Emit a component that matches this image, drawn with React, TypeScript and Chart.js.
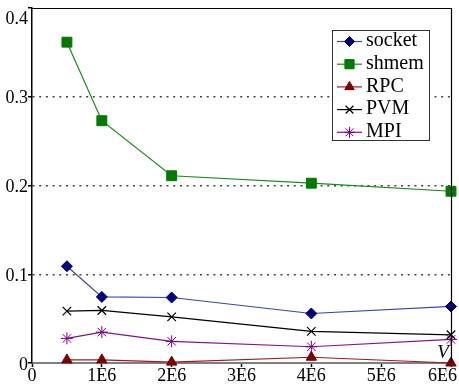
import React, { useEffect, useRef, useState } from "react";
import { Chart, registerables } from "chart.js";
import { drawPoint } from "chart.js/helpers";

Chart.register(...registerables);

const xValues = [0.5e6, 1e6, 2e6, 4e6, 6e6];
const socketValues = [0.109, 0.0745, 0.0738, 0.0558, 0.0637];
const shmemValues = [0.3615, 0.273, 0.211, 0.2026, 0.1935];
const rpcValues = [0.0035, 0.0035, 0.001, 0.0065, 0.0];
const pvmValues = [0.0584, 0.0592, 0.052, 0.0356, 0.0318];
const mpiValues = [0.0277, 0.0348, 0.0244, 0.0183, 0.0266];
const seriesNames = ["socket", "shmem", "RPC", "PVM", "MPI"];
const xTickValues = [0, 1e6, 2e6, 3e6, 4e6, 5e6, 6e6];
const xTickLabels = ["0", "1E6", "2E6", "3E6", "4E6", "5E6", "6E6"];
const yTickValues = [0, 0.1, 0.2, 0.3, 0.4];
const yTickLabels = ["0", "0.1", "0.2", "0.3", "0.4"];
const axisLabelV = "V";

const SERIF = '"Liberation Serif", "Times New Roman", serif';

const styles = [
  { line: "#3a46a8", fill: "#00007a", point: "rectRot", radius: 5.5, bw: 1 },
  { line: "#1a8a1a", fill: "#007a00", point: "rect", radius: 7, bw: 1 },
  { line: "#9a1c1c", fill: "#7a0000", point: "triangle", radius: 6, bw: 1 },
  { line: "#000000", fill: "#000000", point: "crossRot", radius: 6, bw: 1.2 },
  { line: "#8a108a", fill: "#800080", point: "star", radius: 6, bw: 1 },
];

const allSeries = [socketValues, shmemValues, rpcValues, pvmValues, mpiValues];

const LEG = { x: 332, y: 30, w: 97, h: 110, row0: 11.5, rowH: 22.7 };

const decorPlugin = {
  id: "decor",
  afterDraw(chart: any) {
    const { ctx, chartArea } = chart;
    ctx.save();
    ctx.strokeStyle = "#000";
    ctx.lineWidth = 1.2;
    ctx.beginPath();
    ctx.moveTo(chartArea.left, chartArea.top + 0.5);
    ctx.lineTo(chartArea.right + 0.5, chartArea.top + 0.5);
    ctx.lineTo(chartArea.right + 0.5, chartArea.bottom);
    ctx.stroke();

    ctx.fillStyle = "#fff";
    ctx.fillRect(LEG.x, LEG.y, LEG.w, LEG.h);
    ctx.strokeStyle = "#333";
    ctx.lineWidth = 1;
    ctx.strokeRect(LEG.x + 0.5, LEG.y + 0.5, LEG.w, LEG.h);
    seriesNames.forEach((_name, i) => {
      const s = styles[i];
      const y = LEG.y + LEG.row0 + i * LEG.rowH;
      ctx.strokeStyle = s.line;
      ctx.lineWidth = 1.2;
      ctx.beginPath();
      ctx.moveTo(LEG.x + 5, y);
      ctx.lineTo(LEG.x + 30, y);
      ctx.stroke();
      ctx.fillStyle = s.fill;
      ctx.strokeStyle = s.fill;
      ctx.lineWidth = s.bw;
      drawPoint(ctx, { pointStyle: s.point, radius: s.radius - 0.5, rotation: 0, borderWidth: s.bw }, LEG.x + 17.5, y);
    });
    ctx.restore();
  },
};

type Lbl = { text: string; left: number; top: number; width: number; align: "left" | "right" | "center"; size: number; italic?: boolean };

export default function App() {
  const ref = useRef<HTMLCanvasElement>(null);
  const [labels, setLabels] = useState<Lbl[]>([]);
  useEffect(() => {
    if (!ref.current) return;
    const datasets = allSeries.map((vals, i) => {
      const s = styles[i];
      return {
        label: seriesNames[i],
        data: vals.map((v, j) => ({ x: xValues[j], y: v })),
        borderColor: s.line,
        borderWidth: 1.2,
        backgroundColor: s.fill,
        pointStyle: s.point,
        pointRadius: s.radius,
        pointBackgroundColor: s.fill,
        pointBorderColor: s.fill,
        pointBorderWidth: s.bw,
        tension: 0,
        clip: false,
      };
    });
    const chart: any = new Chart(ref.current, {
      type: "line",
      data: { datasets } as any,
      plugins: [decorPlugin],
      options: {
        animation: false,
        responsive: false,
        layout: { padding: { top: 7, right: 6, left: 0, bottom: 0 } },
        plugins: { legend: { display: false }, tooltip: { enabled: false } },
        scales: {
          x: {
            type: "linear",
            min: 0,
            max: 6e6,
            afterFit: (s: any) => {
              s.height = 22;
              s.paddingLeft = 0;
              s.paddingRight = 0;
            },
            afterBuildTicks: (s: any) => {
              s.ticks = xTickValues.map((v) => ({ value: v }));
            },
            ticks: { display: false, autoSkip: false, maxRotation: 0 },
            grid: { drawOnChartArea: false, drawTicks: true, tickLength: 4, tickColor: "#000", tickWidth: 1.5 },
            border: { color: "#808080", width: 2 },
          },
          y: {
            type: "linear",
            min: 0,
            max: 0.4,
            afterFit: (s: any) => {
              s.width = 32;
              s.paddingTop = 0;
              s.paddingBottom = 0;
            },
            afterBuildTicks: (s: any) => {
              s.ticks = yTickValues.map((v) => ({ value: v }));
            },
            ticks: { display: false, autoSkip: false },
            grid: {
              drawTicks: true,
              tickLength: 4,
              tickColor: "#000",
              tickWidth: 1.5,
              lineWidth: 1.5,
              color: (c: any) => {
                const v = c.tick ? c.tick.value : 0;
                return v > 0.05 && v < 0.35 ? "#444" : "rgba(0,0,0,0)";
              },
            },
            border: { color: "#000", width: 1.5, dash: [2, 4.7] },
          },
        },
      } as any,
    });

    const xs = chart.scales.x;
    const ys = chart.scales.y;
    const ca = chart.chartArea;
    const W = chart.width;
    const out: Lbl[] = [];
    yTickValues.forEach((v, i) => {
      const py = Math.max(ys.getPixelForValue(v), ca.top + 9.5);
      out.push({ text: yTickLabels[i], left: 0, width: ca.left - 4, align: "right", top: py - 8.5, size: 18 });
    });
    xTickValues.forEach((v, i) => {
      const px = xs.getPixelForValue(v);
      if (px + 15 > W - 2) {
        out.push({ text: xTickLabels[i], left: W - 2 - 60, width: 60, align: "right", top: 366.4, size: 18 });
      } else {
        out.push({ text: xTickLabels[i], left: px - 30, width: 60, align: "center", top: 366.4, size: 18 });
      }
    });
    seriesNames.forEach((name, i) => {
      const y = LEG.y + LEG.row0 + i * LEG.rowH;
      out.push({ text: name, left: LEG.x + 34, width: 62, align: "left", top: y - 12.2, size: 20 });
    });
    out.push({ text: axisLabelV, left: 443 - 15, width: 30, align: "center", top: 341.6, size: 19, italic: true });
    setLabels(out);
    return () => chart.destroy();
  }, []);
  return (
    <div style={{ position: "absolute", left: 0, top: 0, width: 459, height: 385, background: "#fff", overflow: "hidden" }}>
      <canvas ref={ref} width={459} height={385} style={{ display: "block", width: 459, height: 385 }} />
      {labels.map((l, i) => (
        <div
          key={i}
          style={{
            position: "absolute",
            left: l.left,
            top: l.top,
            width: l.width,
            textAlign: l.align,
            fontFamily: SERIF,
            fontSize: l.size,
            lineHeight: `${l.size}px`,
            fontStyle: l.italic ? "italic" : "normal",
            color: "#000",
            whiteSpace: "nowrap",
            pointerEvents: "none",
            margin: 0,
          }}
        >
          {l.text}
        </div>
      ))}
    </div>
  );
}
